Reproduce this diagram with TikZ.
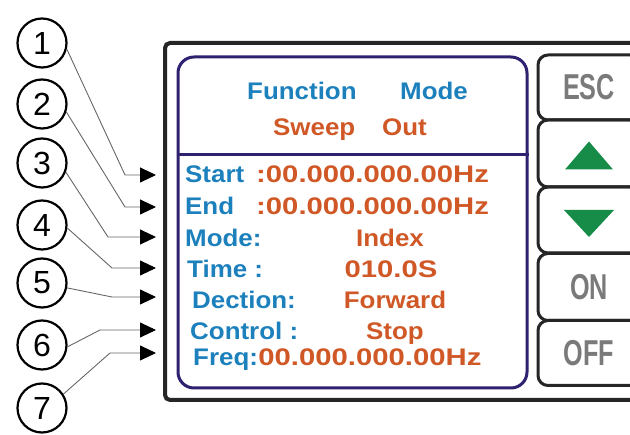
\documentclass[tikz,border=0pt]{standalone}
\usepackage{fontspec}
\setmainfont{Liberation Sans}
\newfontfamily\lcdfont[FakeStretch=1.08]{Liberation Sans}
\newfontfamily\numfont[FakeStretch=1.22]{Liberation Sans}
\newfontfamily\keyfont[FakeStretch=0.7]{Liberation Sans}
\usetikzlibrary{arrows.meta, positioning, calc}

\definecolor{lcdblue}{RGB}{28,128,188}
\definecolor{lcdred}{RGB}{208,88,38}
\definecolor{lcdframe}{RGB}{48,32,112}
\definecolor{keygray}{RGB}{122,122,122}
\definecolor{keygreen}{RGB}{22,140,72}

\begin{document}
\begin{tikzpicture}[x=1pt, y=-1pt]
		\tikzstyle{num} = [circle, draw=black, line width=2.2pt, minimum size=49pt, inner sep=0, font=\fontsize{32pt}{32pt}\selectfont]
		\tikzstyle{pointer} = [-{Triangle[length=16pt, width=15pt, color=black]}, draw=black!60, line width=0.9pt]
		\tikzstyle{lbl} = [anchor=base west, inner sep=0, text=lcdblue, font={\lcdfont\bfseries\fontsize{24pt}{28pt}\selectfont}]
		\tikzstyle{val} = [lbl, text=lcdred]
		\tikzstyle{numval} = [val, font={\numfont\bfseries\fontsize{24pt}{28pt}\selectfont}]
		\tikzstyle{key} = [rectangle, draw=black!85, line width=3pt, rounded corners=10pt, minimum width=102pt, text=keygray, font={\keyfont\bfseries\fontsize{36pt}{36pt}\selectfont}]

		\useasboundingbox (0,0) rectangle (630,435);
		\clip (0,0) rectangle (630,435);

		% Panel
		\draw[line width=4pt, draw=black!85, rounded corners=5pt] (720,43) -- (165,43) -- (165,400) -- (720,400);

		% Display
		\node[draw=lcdframe, line width=3pt, rounded corners=16pt, minimum width=349pt, minimum height=331pt] (lcd) at (352.5,222.5) {};
		\coordinate (div) at (0,155);
		\draw[draw=lcdframe, line width=3pt] (lcd.west |- div) -- (lcd.east |- div);

		\node[lbl] (fun) at (247,100) {Function};
		\node[lbl] (mode) at (400,100) {Mode};
		\node[val] (sweep) at (273,136) {Sweep};
		\node[val] (out) at (382,136) {Out};

		\node[lbl] (start) at (185,183) {Start};
		\node[numval] (startv) at (256,183) {:00.000.000.00Hz};
		\node[lbl] (end) at (185,215) {End};
		\node[numval] (endv) at (256,215) {:00.000.000.00Hz};
		\node[lbl] (modelbl) at (185,247) {Mode:};
		\node[val, anchor=base] (modev) at (390,247) {Index};
		\node[lbl] (time) at (187,278) {Time :};
		\node[numval, anchor=base] (timev) at (391,278) {010.0S};
		\node[lbl] (dect) at (192,309) {Dection:};
		\node[val, anchor=base] (dectv) at (395,309) {Forward};
		\node[lbl] (ctrl) at (190,340) {Control :};
		\node[val, anchor=base] (ctrlv) at (395,340) {Stop};
		\node[lbl] (freq) at (193,366) {Freq:};
		\node[numval] (freqv) at (freq.base east) {00.000.000.00Hz};

		% Keys
		\node[key, minimum height=65pt] (esc) at (589,87.5) {ESC};
		\node[key, minimum height=67pt] (up) at (589,153.5) {};
		\node[key, minimum height=66pt] (down) at (589,220) {};
		\node[key, minimum height=67pt] (on) at (589,287) {ON};
		\node[key, minimum height=65pt] (off) at (589,353) {OFF};
		\fill[keygreen] ($(up)+(-24,16)$) -- ($(up)+(24,16)$) -- ($(up)+(0,-12)$) -- cycle;
		\fill[keygreen] ($(down)+(-25,-10)$) -- ($(down)+(25,-10)$) -- ($(down)+(0,17)$) -- cycle;

		% Callouts
		\foreach \i/\cy/\ang/\bx/\by in {1/43/-14/125/175, 2/104/-18/125/207, 3/163/-21/108/237, 4/225/-7/112/268, 5/283/-11/112/297, 6/345/-4/100/330, 7/408/33/110/353} {
				\node[num] (n\i) at (42,\cy) {\i};
				\coordinate (bend\i) at (\bx,\by);
				\coordinate (tip\i) at (156,\by);
				\draw[pointer] (n\i.\ang) -- (bend\i) -- (tip\i);
			};

	\end{tikzpicture}
\end{document}
